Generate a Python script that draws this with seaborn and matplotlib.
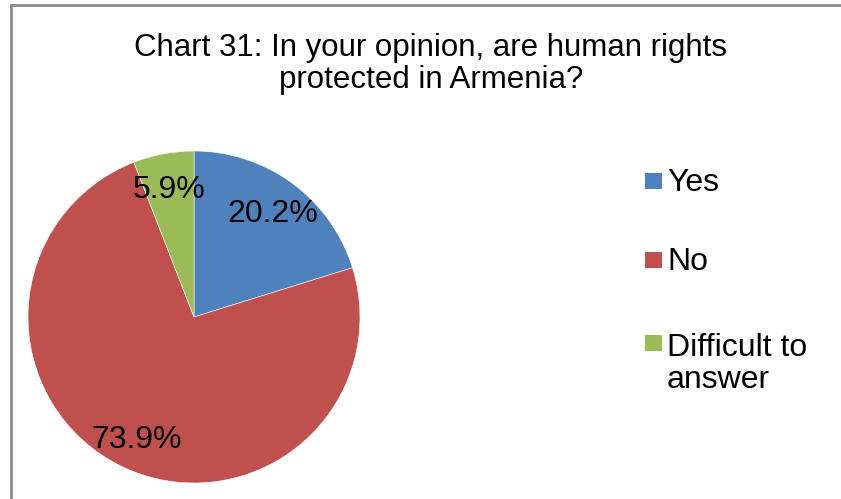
import matplotlib
matplotlib.use("Agg")
import matplotlib.pyplot as plt
from matplotlib.patches import Rectangle
import seaborn as sns

# Survey answers and their shares (%)
answers = ["Yes", "No", "Difficult to\nanswer"]
shares = [20.2, 73.9, 5.9]
colors = ["#4F81BD", "#C0504D", "#9BBB59"]
title = "Chart 31: In your opinion, are human rights\nprotected in Armenia?"

sns.set_theme(style="white")
plt.rcParams["font.family"] = ["Liberation Sans", "DejaVu Sans"]

W, H = 841, 499
fig = plt.figure(figsize=(W / 100, H / 100), dpi=100)
fig.patch.set_facecolor("white")

# Outer chart frame (runs past the right and bottom edges)
fig.add_artist(Rectangle((10.5 / W, -0.1), 1.2, 1 - 5.5 / H + 0.1,
                         transform=fig.transFigure, fill=False,
                         edgecolor="#8c8c8c", linewidth=2))

fig.text(431 / W, 1 - 64 / H, title, ha="center", va="center",
         fontsize=22.5, color="black", linespacing=1.13)

# Pie axes: centre (194, 317) px, radius 166 px
cx, cy, r = 194, 317, 166
ax = fig.add_axes([(cx - r) / W, 1 - (cy + r) / H, 2 * r / W, 2 * r / H])
wedges, texts, autotexts = ax.pie(
    shares, colors=colors, startangle=90, counterclock=False,
    autopct=lambda p: f"{p:.1f}%", pctdistance=0.8,
    wedgeprops=dict(edgecolor="white", linewidth=0.4),
    textprops=dict(fontsize=23, color="black"),
)
for t in autotexts:
    t.set_va("center_baseline")
ax.set_xlim(-1, 1)
ax.set_ylim(-1, 1)
ax.set_aspect("equal")
ax.axis("off")

# Legend entries drawn with a square marker beside each answer;
# the square sits level with the first line of its label
legend_baselines = [191, 270, 353]
line_step = 35
for ans, col, yb in zip(answers, colors, legend_baselines):
    fig.add_artist(Rectangle((645 / W, 1 - (yb - 2.5) / H), 17 / W, 16 / H,
                             transform=fig.transFigure, facecolor=col,
                             edgecolor="none"))
    last_baseline = yb + line_step * ans.count("\n")
    fig.text(667 / W, 1 - last_baseline / H, ans, ha="left", va="baseline",
             fontsize=23, color="black", linespacing=1.1)

fig.savefig("out.png", dpi=100, facecolor="white")
